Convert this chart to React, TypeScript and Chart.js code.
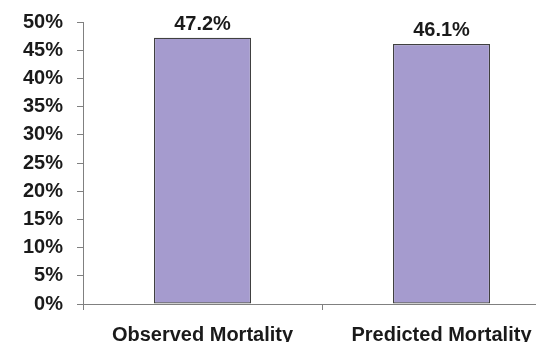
import React, { useEffect, useRef } from "react";
import { Chart, registerables } from "chart.js";

Chart.register(...registerables);

const categories = ["Observed Mortality", "Predicted Mortality"];
const mortalityValues = [47.2, 46.1];
const valueLabels = ["47.2%", "46.1%"];
const yMin = 0;
const yMax = 50;
const yStep = 5;

const FONT = "'Liberation Sans', Arial, sans-serif";

const valueLabelPlugin = {
  id: "valueLabels",
  afterDatasetsDraw(chart: any) {
    const ctx = chart.ctx;
    const meta = chart.getDatasetMeta(0);
    ctx.save();
    ctx.font = `bold 20px ${FONT}`;
    ctx.fillStyle = "#1a1a1a";
    ctx.textAlign = "center";
    ctx.textBaseline = "alphabetic";
    meta.data.forEach((bar: any, i: number) => {
      ctx.fillText(valueLabels[i], bar.x, bar.y - 8);
    });
    ctx.restore();
  },
};

export default function App() {
  const canvasRef = useRef<HTMLCanvasElement | null>(null);

  useEffect(() => {
    if (!canvasRef.current) return;
    const chart = new Chart(canvasRef.current, {
      type: "bar",
      data: {
        labels: categories,
        datasets: [
          {
            data: mortalityValues,
            backgroundColor: "#a59bce",
            borderColor: "#404040",
            borderWidth: 1.2,
            borderSkipped: false,
            barPercentage: 1,
            categoryPercentage: 0.406,
          },
        ],
      },
      options: {
        animation: false,
        responsive: true,
        maintainAspectRatio: false,
        layout: { padding: { top: 0, right: 1, left: 0, bottom: 0 } },
        plugins: {
          legend: { display: false },
          tooltip: { enabled: false },
        },
        scales: {
          x: {
            grid: {
              display: true,
              drawOnChartArea: false,
              drawTicks: true,
              tickLength: 6,
              color: "#808080",
              offset: true,
            },
            border: { display: true, color: "#808080", width: 1 },
            ticks: {
              font: { family: FONT, size: 20, weight: "bold" },
              color: "#1a1a1a",
              padding: 13,
              maxRotation: 0,
              autoSkip: false,
            },
            afterFit(scale: any) {
              scale.height = 38;
            },
          },
          y: {
            min: yMin,
            max: yMax,
            grid: {
              display: true,
              drawOnChartArea: false,
              drawTicks: true,
              tickLength: 6,
              color: "#808080",
            },
            border: { display: true, color: "#808080", width: 1 },
            ticks: {
              stepSize: yStep,
              font: { family: FONT, size: 20, weight: "bold" },
              color: "#1a1a1a",
              padding: 14,
              callback: (v: any) => `${v}%`,
            },
            afterFit(scale: any) {
              scale.width = 83;
            },
          },
        },
      },
      plugins: [valueLabelPlugin],
    });
    return () => chart.destroy();
  }, []);

  return (
    <div
      style={{
        position: "fixed",
        left: 0,
        top: 0,
        width: 536,
        height: 342,
        overflow: "hidden",
        background: "#ffffff",
      }}
    >
      <div style={{ position: "absolute", left: 0, top: -4, width: 562, height: 346 }}>
        <canvas ref={canvasRef} />
      </div>
    </div>
  );
}
